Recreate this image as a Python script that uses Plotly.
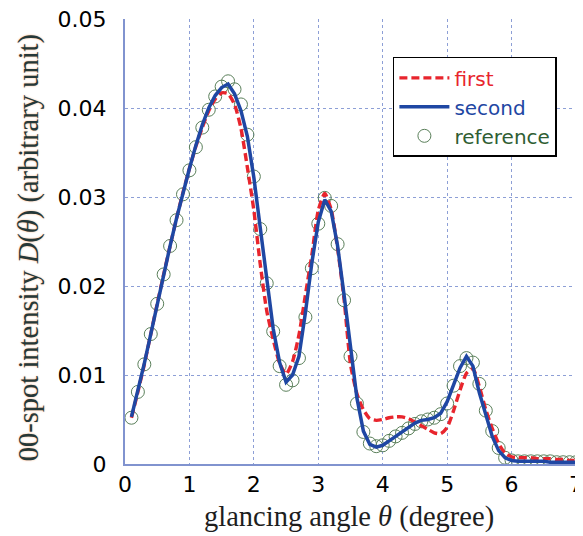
import plotly.graph_objects as go

theta = [0.1, 0.2, 0.3, 0.4, 0.5, 0.6, 0.7, 0.8, 0.9, 1.0,
         1.1, 1.2, 1.3, 1.4, 1.5, 1.6, 1.7, 1.8, 1.9, 2.0,
         2.1, 2.2, 2.3, 2.4, 2.5, 2.6, 2.7, 2.8, 2.9, 3.0,
         3.1, 3.2, 3.3, 3.4, 3.5, 3.6, 3.7, 3.8, 3.9, 4.0,
         4.1, 4.2, 4.3, 4.4, 4.5, 4.6, 4.7, 4.8, 4.9, 5.0,
         5.1, 5.2, 5.3, 5.4, 5.5, 5.6, 5.7, 5.8, 5.9, 6.0,
         6.1, 6.2, 6.3, 6.4, 6.5, 6.6, 6.7, 6.8, 6.9, 7.0]

reference = [0.0052, 0.0081, 0.0112, 0.0146, 0.0180, 0.0213, 0.0245, 0.0274, 0.0303, 0.0330,
             0.0356, 0.0378, 0.0398, 0.0413, 0.0424, 0.0430, 0.0421, 0.0404, 0.0370, 0.0323,
             0.0264, 0.0203, 0.0149, 0.0110, 0.0089, 0.0094, 0.0119, 0.0165, 0.0220, 0.0270,
             0.0299, 0.0290, 0.0247, 0.0184, 0.0121, 0.0068, 0.0036, 0.0023, 0.0020, 0.0021,
             0.0026, 0.0031, 0.0035, 0.0040, 0.0045, 0.0048, 0.0050, 0.0052, 0.0056, 0.0068,
             0.0088, 0.0110, 0.0119, 0.0114, 0.0090, 0.0060, 0.0037, 0.0018, 0.0007, 0.0004,
             0.0003, 0.0003, 0.0003, 0.0003, 0.0003, 0.0003, 0.0002, 0.0002, 0.0002, 0.0002]

second = [0.0053, 0.0082, 0.0113, 0.0146, 0.0180, 0.0213, 0.0245, 0.0276, 0.0305, 0.0332,
          0.0358, 0.0381, 0.0400, 0.0414, 0.0423, 0.0427, 0.0416, 0.0397, 0.0368, 0.0322,
          0.0265, 0.0205, 0.0152, 0.0114, 0.0092, 0.0100, 0.0121, 0.0170, 0.0226, 0.0272,
          0.0297, 0.0284, 0.0245, 0.0190, 0.0128, 0.0074, 0.0037, 0.0022, 0.0019, 0.0021,
          0.0026, 0.0031, 0.0036, 0.0041, 0.0046, 0.0049, 0.0050, 0.0052, 0.0057, 0.0070,
          0.0088, 0.0108, 0.0121, 0.0110, 0.0080, 0.0054, 0.0031, 0.0015, 0.0007, 0.0004,
          0.0003, 0.0003, 0.0003, 0.0003, 0.0003, 0.0002, 0.0002, 0.0002, 0.0002, 0.0002]

first = [0.0052, 0.0081, 0.0112, 0.0146, 0.0180, 0.0213, 0.0245, 0.0276, 0.0305, 0.0332,
         0.0357, 0.0378, 0.0397, 0.0410, 0.0417, 0.0416, 0.0404, 0.0377, 0.0333, 0.0285,
         0.0224, 0.0172, 0.0140, 0.0113, 0.0101, 0.0115, 0.0145, 0.0190, 0.0235, 0.0285,
         0.0304, 0.0286, 0.0242, 0.0185, 0.0112, 0.0079, 0.0061, 0.0051, 0.0049, 0.0050,
         0.0052, 0.0053, 0.0053, 0.0051, 0.0047, 0.0043, 0.0039, 0.0035, 0.0034, 0.0041,
         0.0060, 0.0083, 0.0102, 0.0107, 0.0087, 0.0061, 0.0040, 0.0023, 0.0012, 0.0008,
         0.0007, 0.0007, 0.0007, 0.0006, 0.0006, 0.0006, 0.0005, 0.0005, 0.0004, 0.0004]

x_ticks = [0, 1, 2, 3, 4, 5, 6, 7]
x_tick_labels = ["0", "1", "2", "3", "4", "5", "6", "7"]
y_ticks = [0, 0.01, 0.02, 0.03, 0.04, 0.05]
y_tick_labels = ["0", "0.01", "0.02", "0.03", "0.04", "0.05"]

RED = "#e8252d"
BLUE = "#1f47a3"
GREEN = "#2f5e33"
GRID = "#8d9fd6"
AXIS = "#8193cf"

fig = go.Figure()
fig.add_trace(go.Scatter(
    x=theta, y=reference, mode="markers",
    name="<span style='color:%s'>reference</span>" % GREEN,
    marker=dict(symbol="circle-open", size=13, color="#5a7f5a", line=dict(width=1)),
    legendrank=3,
))
fig.add_trace(go.Scatter(
    x=theta, y=first, mode="lines",
    name="<span style='color:%s'>first</span>" % RED,
    line=dict(color=RED, width=3.4, dash="8px,4px", shape="spline", smoothing=0.6),
    legendrank=1,
))
fig.add_trace(go.Scatter(
    x=theta, y=second, mode="lines",
    name="<span style='color:%s'>second</span>" % BLUE,
    line=dict(color=BLUE, width=3.5),
    legendrank=2,
))

# the page body has an 8px margin, so the figure is 8px smaller than the window
fig.update_layout(
    width=575, height=528,
    margin=dict(l=117, r=7, t=11, b=72, autoexpand=False),
    paper_bgcolor="white", plot_bgcolor="white",
    font=dict(family="DejaVu Sans", size=22, color="black"),
    showlegend=True,
    legend=dict(
        x=0.594, y=0.915, xanchor="left", yanchor="top",
        bgcolor="white", bordercolor="black", borderwidth=1.5,
        font=dict(family="DejaVu Sans", size=20),
        itemwidth=50, tracegroupgap=0,
    ),
    annotations=[
        dict(text="glancing angle <i>θ</i> (degree)", xref="paper", yref="paper",
             x=0.497, y=-0.119, xanchor="center", yanchor="middle", showarrow=False,
             font=dict(family="Liberation Serif", size=28.5, color="#1e1e1e")),
        dict(text="00-spot intensity <i>D</i>(<i>θ</i>) (arbitrary unit)",
             xref="paper", yref="paper", x=-0.214, y=0.486,
             xanchor="center", yanchor="middle", textangle=-90, showarrow=False,
             font=dict(family="Liberation Serif", size=28.5, color="#263838",
                       shadow="0px 0px 2px #f7b080")),
    ],
)
fig.update_xaxes(
    range=[0, 7], tickvals=x_ticks, ticktext=x_tick_labels,
    showgrid=True, gridcolor=GRID, gridwidth=1, griddash="3px,3px",
    showline=True, linecolor=AXIS, linewidth=2,
    zeroline=False, ticks="", ticklabelstandoff=0, automargin=False,
    ticklabeloverflow="allow",
)
fig.update_yaxes(
    range=[0, 0.05], tickvals=y_ticks, ticktext=y_tick_labels,
    showgrid=True, gridcolor=GRID, gridwidth=1, griddash="3px,3px",
    showline=True, linecolor=AXIS, linewidth=2,
    zeroline=False, ticks="", ticklabelstandoff=12, automargin=False,
    ticklabeloverflow="allow",
)

fig.write_html("out.html")
